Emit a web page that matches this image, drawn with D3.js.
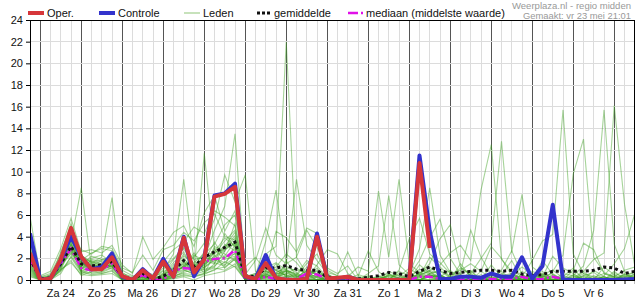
<!DOCTYPE html>
<html>
<head>
<meta charset="utf-8">
<script src="https://cdn.jsdelivr.net/npm/d3@7"></script>
<style>
  body { margin: 0; background: #fff; }
  svg { display: block; font-family: "Liberation Sans", Arial, sans-serif; }
</style>
</head>
<body>
<svg id="chart" width="635" height="300"></svg>
<script>
// day labels, one per day at 12:00
var days = ["Za 24", "Zo 25", "Ma 26", "Di 27", "Wo 28", "Do 29", "Vr 30", "Za 31",
            "Zo 1", "Ma 2", "Di 3", "Wo 4", "Do 5", "Vr 6"];
var yTicks = [0, 2, 4, 6, 8, 10, 12, 14, 16, 18, 20, 22, 24];

// 6-hourly values, first point vr 23 18:00
var oper = [2.5,0,0.15,1.9,4.8,2.15,1.0,1.0,2.1,0.35, 0,0.9,0.15,1.7,0.3,3.9,0.7,1.9,7.7,7.95,
            8.6,0.35,0.1,1.55,0.2,0,0,0.1,4.0,0.15, 0.2,0.3,0,0,0,0,0,0,10.8,2.95];
var controle = [4.3,0,0.15,1.8,4.05,2.1,1.0,1.2,2.45,0.3, 0,1.0,0.15,1.95,0.3,4.0,0.35,2.0,7.8,8.0,
            8.9,0.3,0.1,2.3,0.1,0,0,0.05,4.3,0.15, 0.1,0.3,0,0,0,0,0,0,11.5,4.5,
            0.1,0.1,0.3,0.3,0.2,0.6,0.3,0.3,2.1,0.1, 1.3,6.95,0.05,0,0,0,0,0,0.05,0.1];
var gemiddelde = [2.0,0.1,0.2,1.5,3.1,1.5,1.3,1.4,1.7,0.35, 0.05,0.6,0.05,0.35,0.9,1.8,1.25,2.1,2.6,3.0,
            3.5,0.4,0.3,1.1,1.1,1.35,1.0,0.9,0.9,0.25, 0.2,0.2,0.1,0.25,0.4,0.7,0.6,0.3,0.8,1.2,
            0.9,0.6,0.7,0.8,0.9,0.9,0.8,0.9,0.55,0.4, 0.5,0.8,0.8,0.8,0.8,0.9,1.2,1.1,0.6,0.8];
var mediaan = [1.9,0,0.1,1.5,2.9,1.1,0.9,1.0,1.5,0.2, 0,0.45,0,0.05,0.85,1.1,1.0,1.7,1.95,2.0,
            2.75,0.1,0,0.3,0.1,0.1,0.1,0.6,0.5,0.1, 0,0,0,0,0,0.05,0.1,0,0.3,0.3,
            0.1,0,0,0.05,0.1,0.1,0.05,0.1,0.3,0.05, 0.1,0.3,0.1,0,0,0.1,0.05,0,0,0.05];

// ensemble members (leden)
var leden = [
  [1.2,0,0.3,1.8,3.5,8.5,1.2,1.0,1.5,0.2, 0,0.5,0,0.3,1.2,2.0,0.8,1.5,2.2,3.0, 4.1,0,0,0.8,0.5,1.0,0.4,0.2,1.1,0, 0,0,0,0,0,0.5,0.2,0,0.6,1.2, 0.4,0,0.2,0.5,0,0.3,0.8,0,0,0.2, 0.5,0,0.3,1.1,0,0.2,0.6,0.3,0,0.5],
  [2.4,0.1,0,1.2,2.8,1.0,1.6,2.1,7.6,0.4, 0,0.2,0,0,0.6,1.3,2.5,1.0,3.1,2.6, 5.2,0.2,0.5,1.6,0.3,0.9,0,0.5,0,0, 0,0.3,0,0,0.4,0,0,0.2,1.0,0.5, 0,0,1.5,0.3,0,0,0.4,1.8,0,0, 0,0.4,0,0.2,0.8,0,0.3,0,0.6,0],
  [0.8,0,0.2,1.5,4.2,0.6,1.0,1.3,2.0,0, 0,0,0.3,0.9,2.4,9.3,1.8,0.6,1.5,4.3, 3.0,0,0.2,0.4,1.5,0.2,0,0.3,0.8,0, 0,0,0,0.3,0,0.8,0.4,0,0.3,2.1, 1.2,0.3,0,0,0.8,0.2,0,0,0.5,0, 0,0,0.4,0.1,0,0.9,0.3,0,0.2,0.8],
  [3.1,0,0.1,2.2,3.8,1.9,1.2,0.8,1.7,0.3, 0.1,1.1,0,0.2,0.5,1.6,0.7,11.7,2.8,1.9, 2.2,0,0,0.6,0,1.8,0.3,0.6,0,0.2, 0,0,0,0,0,0,0.6,0,0.4,0.8, 0,0,0.5,0,0,1.4,0.3,0,0,0, 0.6,0.2,0,0,0.3,0,0,0.8,0,0],
  [1.6,0.2,0.4,1.4,2.9,1.3,1.8,1.5,1.2,0.5, 0,0.4,0.2,0.8,1.0,2.4,1.1,2.0,4.6,6.8, 13.5,0.4,0,0.3,0.6,0.5,0,1.2,0.4,0, 0.3,0,0.2,0,0,0,0,0,0.2,0.4, 0.3,0.9,0,0,0.2,0,0,0.4,0,0.6, 0.2,0,0,0.5,0,0,1.2,0.5,0,0],
  [2.0,0,0.2,1.0,3.3,1.6,1.4,1.2,2.4,0.1, 0.2,0.3,0,0.2,0.8,1.2,2.1,3.4,5.6,9.7, 7.2,9.7,0.8,0.2,0,0.3,0.5,0,0,0.4, 0,0,0,0,0.3,0,0,0,0.4,0.2, 0,0,0,0.6,0,0,0,0,0.8,0.3, 0,0,0.2,0,0.4,0,0,0.3,0.9,1.2],
  [1.1,0,0,1.7,2.6,1.1,0.9,1.4,1.0,0.2, 0,0.6,0.1,0.4,0.6,1.0,0.5,1.2,1.8,2.2, 3.6,0.2,0.3,2.4,3.1,22,2.1,0.6,0.3,0, 0,0,0,0,0,0,0,0.3,0.5,0.2, 0.4,0,0,0,0.3,0,0,0.2,0,0, 0,0,0,0.4,0,0.2,0,0,0.3,0.5],
  [0.5,0,0.1,0.8,2.1,0.6,0.7,0.9,1.4,0, 0,0,0,0.1,0.3,0.8,1.5,1.1,2.0,1.6, 2.5,0,0.4,3.6,8.3,1.5,9.3,3.2,1.8,0.6, 0,0.2,0,0,0,0,0,0,0,0.6, 0.8,0.2,0,0,0,0,0.4,0,0,0, 0.3,0.6,0,0,0.2,0,0,0,0,0.2],
  [1.9,0,0.5,1.6,3.0,1.4,1.3,1.8,1.9,0.6, 0.3,0.2,0,0.5,1.6,2.6,0.9,1.4,2.9,2.4, 1.8,0,0,0.4,0.2,0.6,1.1,0.5,0.3,0, 0,0.3,1.2,0.8,8.2,2.1,9.3,1.5,0.7,0.3, 0,0,0.3,0.4,0,0,0.6,0,0.2,0, 0,0.5,0,0,0,0.4,0,0,0.2,0],
  [2.7,0.2,0,1.1,4.4,2.3,1.6,1.1,1.3,0.3, 0,0.8,0.5,1.4,0.9,1.1,2.3,1.8,1.5,3.3, 2.7,0.3,0.6,0.3,0.1,0.9,0.5,1.8,1.3,0.2, 0.1,0,0,0.6,1.3,7.8,1.4,0.5,2.9,8.5, 2.3,0.7,0,0,0,0.3,0,0,0,0.4, 0.2,0,0,0,0.6,0.3,0,0.2,0,0],
  [0.9,0,0.3,2.0,3.6,0.9,1.1,1.6,1.8,0.1, 0,0.1,0.4,0.6,1.9,2.9,1.4,0.9,1.2,2.7, 3.9,0,0,0.5,0.4,0.3,0,0.2,0.9,0.3, 0,0,0.5,0.2,0,0,0.3,1.1,0.4,0.9, 1.4,2.5,3.2,1.8,8.3,12.5,1.9,0.8,0,0, 0.4,0,0,0.3,0,0,0.2,0,0.5,0],
  [1.3,0,0.2,1.3,4.8,1.7,0.6,0.7,1.1,0.4, 0.1,0.3,0,0.2,0.4,1.4,0.6,1.7,3.5,2.0, 2.9,0.4,0.2,0.9,0.6,1.3,0.7,0,0,0, 0.2,0,0,0,0,0.2,0,0,1.4,0.6, 0.9,0.3,1.1,0.6,2.0,3.4,12.8,2.6,7.9,1.2, 0.5,0.9,0.2,0,0,0,0.3,0,0.4,0.3],
  [2.2,0.1,0.1,1.9,3.2,1.5,2.0,2.3,1.6,0.2, 0,0,0,0,0.3,0.7,1.0,2.2,1.6,1.3, 3.3,0.1,0,0.2,0.9,0.4,0.2,0,0.6,0.5, 0,0,0.2,0,0,0.4,0.2,0,0,0.3, 0,0,0.6,0.9,0,0,0,0.4,0.3,1.8, 3.6,4.2,15.7,2.4,0.6,0,0.3,0,0,0.4],
  [0.6,0,0.2,1.3,2.4,0.8,1.2,1.0,1.3,0, 0.2,0.9,0.1,0.5,1.1,1.8,0.4,0.6,2.4,3.6, 4.6,0.1,0.3,1.2,0.2,0,0,0.4,0.2,0, 0,0,0,0,0.2,0.3,0,0,0.5,0.8, 0.2,0,0,0,0.5,0,0.4,0.6,0,0, 0,0.8,2.3,9.8,13.0,2.1,0.7,0.3,0,0.6],
  [1.4,0,0,1.6,2.7,1.2,1.5,1.9,2.1,0.5, 0,0.3,0.2,0.3,0.9,1.5,1.2,2.6,2.3,1.1, 2.0,0.6,0.1,0.6,1.0,0.7,0.2,0.9,0.5,0, 0,0,0,0,0,0,0.8,0.4,0,0.3, 0.4,0,0,0.8,0,0,0,0.3,0,0.2, 0,0,0.6,0.4,1.3,4.6,15.7,3.3,0.8,0],
  [3.4,0.3,0.6,2.4,5.2,2.1,1.7,1.4,1.8,0.3, 0,0.4,0,0.1,0.6,1.3,0.9,1.3,2.6,3.9, 3.1,0,0,0.3,0.5,0.8,0.6,0.1,0,0, 0,0,0,0.4,0,0,0,0,0.3,0.5, 0,0.4,0,0,0.3,0.2,0,0,0.4,0, 0.3,0.2,0,0,0.8,1.9,2.5,16.1,7.0,1.3],
  [5.9,0.4,0.8,2.9,5.7,2.6,2.8,2.5,3.2,1.4, 0.6,4.0,1.9,3.0,4.4,5.0,3.1,6.2,7.8,4.5, 6.4,0.5,1.8,4.8,2.3,1.5,2.1,4.6,3.0,1.1, 0.6,1.3,0,0,0,0,0.9,3.8,5.7,2.4, 1.6,0.6,0.9,1.5,0.8,3.1,2.0,0.4,1.2,0.5, 0.3,2.2,1.1,0.6,0,0,0.4,1.5,2.9,6.1],
  [4.6,0.2,0,2.6,4.9,1.8,2.5,2.9,2.7,0.9, 0.4,0.3,0,1.7,2.8,3.5,4.9,4.3,6.4,5.8, 5.0,0.1,0,1.1,1.6,0.9,0.3,0.2,1.4,2.8, 2.4,0.6,0,0,0,0.4,0.2,0,0.6,1.5, 3.8,5.1,1.2,0.4,0,0,0.9,2.7,0.5,0, 0,0,0,0.9,3.4,2.8,0.6,0.2,0,0],
  [0.7,0,0.1,0.9,1.8,0.4,0.8,0.6,0.9,0, 0,0,0,0,0.2,0.4,0.3,0.6,0.9,1.7, 1.2,0,0,0.1,0,0,0,0,0,0, 0,0,0,0,0,0,0,0,0,0, 0,0,0,0,0,0,0,0,0,0, 0,0,0,0,0,0,0,0,0,0.1],
  [1.8,0,0.2,1.2,3.4,1.0,1.9,1.7,1.5,0.7, 0.1,0,0,0,0.5,0.9,0.6,1.0,1.3,2.1, 2.4,0.2,0,0.4,0,0.2,0,0,0.3,0.7, 0.4,2.6,0.4,0,0,0,0,0.2,0,0, 0,0,0,0,0,0,0,0,0.2,0, 0,0,0,0,0,0,0,0,0,0],
  [2.9,0.3,0.4,2.1,3.9,1.4,2.2,1.9,2.0,0.4, 0,0.6,0,0.4,1.4,2.2,1.6,2.4,3.3,5.1, 6.0,0.3,0.6,0.8,0.3,0.6,0.4,1.5,2.4,0.5, 0,0,0.3,2.7,0.8,0,0,0,0,0.4, 0.5,0,0,0,0,0,0,0.6,0,0, 0,0,0,0,0,0,0,0.4,0,0],
  [0.4,0,0,0.6,2.2,0.8,0.5,0.6,0.8,0, 0,0.2,0,0,0.4,0.6,0.5,0.8,1.1,0.9, 1.5,0,0,0.2,0.3,0,0,0,0,0, 0,0,0,0,0,0,0,0,0,0, 0,0,0,0,0,0,0,0,0,0, 0,0,0,0,0,0,0,0,0,0],
  [3.6,0.1,0.3,1.4,4.1,2.8,2.4,3.1,2.9,1.1, 0.7,2.3,0.9,2.8,3.2,4.4,3.6,5.3,6.1,4.0, 3.7,1.2,2.1,0.8,4.5,3.9,2.6,4.8,4.3,0.9, 0.4,0,0,0,0.3,0.6,0,0.8,0,0.4, 0.3,0,0.7,4.6,2.1,0.5,0.2,0,0,0, 1.8,0.5,0,0,0.4,0.7,0,0,0,0],
  [1.0,0,0,0.9,3.0,0.7,1.0,0.8,1.2,0, 0,0,0,0,0.1,0.3,0,0.4,0.6,0.8, 1.3,0,0,0,0,0,0,0,0,0, 0,0,0,0,0,0,0,0,0,0, 0,0,0,0,0,0,0,0,0,0.3, 0.8,0,0,0,0,0,0,0,0,0],
  [2.5,0,0.2,1.7,3.3,1.2,1.1,0.9,1.6,0.2, 0,0,0,0.6,0.8,1.7,0.8,1.6,2.5,3.1, 4.4,0.4,0,0.5,0.7,1.1,0.9,0.7,0.2,0, 0,0,0,0,0,0,0,0.4,1.8,3.9, 5.6,2.0,0.5,0,0,0,0.3,0,0,0, 0,0,0,0,0,0,0,0,0.5,0.7],
  [1.5,0,0,1.4,2.5,1.3,1.7,1.2,1.4,0.3, 0.1,0.7,0.3,1.1,2.0,3.0,1.9,2.1,1.9,1.4, 2.1,0,0.2,0.7,1.2,2.4,1.6,0.4,0,0, 0,0,0,0,0,0,0,0,0,0.6, 0.2,0,0,0,0,0,0,0,0,0, 0,0,0,0,0,0,0,0.6,0.3,0],
  [0.3,0,0,1.0,1.6,0.5,0.4,0.5,0.6,0, 0,0,0,0,0.2,0.5,0.3,0.5,1.0,1.2, 1.9,0,0,0,0,0.3,0,0,0,0, 0,0,0,0,0,0,0,0,0,0, 0,0,0,0,0,0,0,0,0,0, 0,0,0,0,0,0,0,0,0,0],
  [2.1,0.1,0.2,1.5,3.7,1.5,1.3,1.3,1.3,0.2, 0,0.4,0,0.2,0.7,1.2,1.0,1.4,2.1,2.8, 3.4,0.2,0.4,1.4,0.9,0.4,0.3,0.8,0.6,0.2, 0.3,0,0,0,0,0.5,0.4,0,0.7,0.9, 0.5,0,0,0,0,0,0,0,0,0.8, 0.4,0,0,0,0,0,0,0,0,0]
];

var margin = { left: 30, top: 20, bottom: 20 };
var w = 635, h = 300;
var nSteps = controle.length - 1;

var x = d3.scaleLinear().domain([0, nSteps]).range([margin.left, margin.left + nSteps * 10.25]);
var y = d3.scaleLinear().domain([0, 24]).range([h - margin.bottom, margin.top]);

var svg = d3.select("#chart");
var plotRight = x(nSteps);

svg.append("clipPath").attr("id", "clip")
  .append("rect")
  .attr("x", margin.left).attr("y", margin.top)
  .attr("width", plotRight - margin.left).attr("height", y(0) - margin.top);

// grid: 6h lines, day lines, horizontal lines
var steps = d3.range(0, nSteps + 1);
svg.append("g").selectAll("line")
  .data(steps)
  .enter().append("line")
  .attr("x1", function(d) { return x(d); })
  .attr("x2", function(d) { return x(d); })
  .attr("y1", y(24)).attr("y2", y(0))
  .attr("stroke", function(d) { return (d - 1) % 4 === 0 ? "#555" : "#dcdcdc"; })
  .attr("stroke-width", function(d) { return (d - 1) % 4 === 0 ? 1.2 : 1; })
  .attr("shape-rendering", "crispEdges");

svg.append("g").selectAll("line")
  .data(yTicks)
  .enter().append("line")
  .attr("x1", margin.left).attr("x2", plotRight)
  .attr("y1", function(d) { return y(d); })
  .attr("y2", function(d) { return y(d); })
  .attr("stroke", "#dcdcdc")
  .attr("shape-rendering", "crispEdges");

var line = d3.line()
  .x(function(d, i) { return x(i); })
  .y(function(d) { return y(d); });

var plot = svg.append("g").attr("clip-path", "url(#clip)");

plot.selectAll(".lid")
  .data(leden)
  .enter().append("path")
  .attr("class", "lid")
  .attr("d", line)
  .attr("fill", "none")
  .attr("stroke", "rgb(60,160,30)")
  .attr("stroke-opacity", 0.45)
  .attr("stroke-width", 1.1);

plot.append("path").attr("d", line(mediaan))
  .attr("fill", "none").attr("stroke", "#e011e8")
  .attr("stroke-width", 2.5).attr("stroke-dasharray", "8,3,2,3");

plot.append("path").attr("d", line(gemiddelde))
  .attr("fill", "none").attr("stroke", "#111")
  .attr("stroke-width", 3).attr("stroke-dasharray", "3,3");

plot.append("path").attr("d", line(controle))
  .attr("fill", "none").attr("stroke", "#3333cc")
  .attr("stroke-width", 4).attr("stroke-linejoin", "round");

plot.append("path").attr("d", line(oper))
  .attr("fill", "none").attr("stroke", "#d6363a")
  .attr("stroke-width", 4).attr("stroke-linejoin", "round");

// frame
svg.append("rect")
  .attr("x", margin.left).attr("y", margin.top)
  .attr("width", plotRight - margin.left).attr("height", y(0) - margin.top)
  .attr("fill", "none").attr("stroke", "#000").attr("shape-rendering", "crispEdges");

// axes
var yAxis = d3.axisLeft(y).tickValues(yTicks).tickSize(4).tickPadding(3);
svg.append("g")
  .attr("transform", "translate(" + margin.left + ",0)")
  .call(yAxis)
  .call(function(g) {
    g.select(".domain").remove();
    g.selectAll("text").attr("font-size", 11).attr("fill", "#111").attr("font-family", "Liberation Sans, Arial");
  });

var xAxis = d3.axisBottom(x).tickValues(steps).tickSize(4).tickFormat("");
svg.append("g")
  .attr("transform", "translate(0," + y(0) + ")")
  .call(xAxis)
  .call(function(g) { g.select(".domain").remove(); });

svg.append("g").selectAll("text")
  .data(days)
  .enter().append("text")
  .attr("x", function(d, i) { return x(3 + i * 4); })
  .attr("y", 297)
  .attr("text-anchor", "middle")
  .attr("font-size", 11)
  .attr("fill", "#111")
  .text(function(d) { return d; });

// legend
var legend = [
  { label: "Oper.", x: 28, color: "#d6363a", width: 4, dash: null, len: 16 },
  { label: "Controle", x: 99, color: "#3333cc", width: 4, dash: null, len: 16 },
  { label: "Leden", x: 184, color: "#b5d9a5", width: 1.5, dash: null, len: 16 },
  { label: "gemiddelde", x: 257, color: "#111", width: 3, dash: "3,2", len: 14 },
  { label: "mediaan (middelste waarde)", x: 348, color: "#e011e8", width: 2.5, dash: "10,3,2,3", len: 15 }
];
var lg = svg.append("g").selectAll("g").data(legend).enter().append("g");
lg.append("line")
  .attr("x1", function(d) { return d.x; })
  .attr("x2", function(d) { return d.x + d.len; })
  .attr("y1", 13).attr("y2", 13)
  .attr("stroke", function(d) { return d.color; })
  .attr("stroke-width", function(d) { return d.width; })
  .attr("stroke-dasharray", function(d) { return d.dash; });
lg.append("text")
  .attr("x", function(d) { return d.x + d.len + 3; })
  .attr("y", 17)
  .attr("font-size", 11)
  .attr("fill", "#111")
  .text(function(d) { return d.label; });

svg.append("text").attr("x", 631).attr("y", 9)
  .attr("text-anchor", "end").attr("font-size", 9.5).attr("fill", "#999")
  .attr("textLength", 119).attr("lengthAdjust", "spacingAndGlyphs")
  .text("Weerplaza.nl - regio midden");
svg.append("text").attr("x", 631).attr("y", 18.5)
  .attr("text-anchor", "end").attr("font-size", 9.5).attr("fill", "#999")
  .attr("textLength", 108).attr("lengthAdjust", "spacingAndGlyphs")
  .text("Gemaakt: vr 23 mei 21:01");
</script>
</body>
</html>
